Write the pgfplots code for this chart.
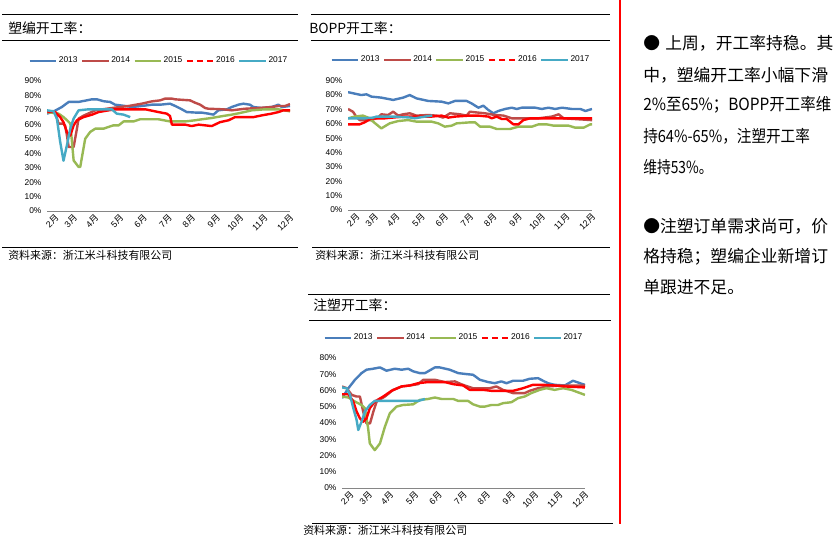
\documentclass[border=0pt]{standalone}
\usepackage{fontspec}
\setmainfont{Liberation Sans}
\newfontfamily\cjk{Noto Sans CJK SC}
\usepackage{pgfplots}
\pgfplotsset{compat=1.18}
\definecolor{c2013}{HTML}{4A7EBB}
\definecolor{c2014}{HTML}{BE4B48}
\definecolor{c2015}{HTML}{98B954}
\definecolor{c2016}{HTML}{FF0000}
\definecolor{c2017}{HTML}{46AAC5}
\definecolor{axgray}{HTML}{868686}
\tikzset{
 s13/.style={c2013, line width=1.8pt, line join=round},
 s14/.style={c2014, line width=1.8pt, line join=round},
 s15/.style={c2015, line width=1.8pt, line join=round},
 s16/.style={c2016, line width=1.8pt, line join=round},
 s16l/.style={c2016, line width=1.8pt, dash pattern=on 4.5pt off 3pt},
 s17/.style={c2017, line width=1.8pt, line join=round},
}
\newcommand\yue{{\cjk 月}}
\newcommand\leg{%
 \addlegendimage{s13}\addlegendentry{2013}%
 \addlegendimage{s14}\addlegendentry{2014}%
 \addlegendimage{s15}\addlegendentry{2015}%
 \addlegendimage{s16l}\addlegendentry{2016}%
 \addlegendimage{s17}\addlegendentry{2017}}
\pgfplotsset{
 panel/.style={
  scale only axis, width=182.25pt, height=97.5pt,
  xmin=1.86, xmax=12.17, ymin=0,
  axis x line*=bottom, axis y line*=left,
  x axis line style={axgray, line width=0.6pt, -},
  y axis line style={draw=none},
  major tick length=0pt, no markers,
  xtick={2.00,2.78,3.69,4.75,5.74,6.80,7.79,8.85,9.84,10.87,11.96},
  xticklabels={{2\yue},{3\yue},{4\yue},{5\yue},{6\yue},{7\yue},{8\yue},{9\yue},{10\yue},{11\yue},{12\yue}},
  xticklabel style={rotate=45, anchor=east, font=\fontsize{6.6}{7}\selectfont, inner sep=0.5pt, yshift=-6.5pt, xshift=1.5pt},
  yticklabel style={font=\fontsize{6.3}{7}\selectfont, inner sep=1pt, xshift=-3pt},
  legend columns=-1,
  legend style={draw=none, fill=none, anchor=center, font=\fontsize{6.3}{7}\selectfont,
    inner sep=0pt, nodes={inner sep=1pt},
    /tikz/every even column/.append style={column sep=1.5pt}},
  legend image code/.code={\draw[##1] (0pt,0pt) -- (20pt,0pt);},
 }
}
\begin{document}
\begin{tikzpicture}
\path[use as bounding box] (0,0) rectangle (630pt,-410.25pt);
\fill[white] (0,0) rectangle (630pt,-410.25pt);

% ---------- Panel 1: 塑编开工率 ----------
\begin{axis}[panel, at={(35.25pt,-158.25pt)}, anchor=south west,
  ymax=90, ytick={0,10,...,90},
  yticklabels={0\%,10\%,20\%,30\%,40\%,50\%,60\%,70\%,80\%,90\%},
  legend style={at={(0.459,1.154)}}]
\leg
\addplot[s13, forget plot] coordinates {(1.86,67.4) (2.21,69.5) (2.49,72) (2.78,75.5) (3.20,75.5) (3.76,77.3) (3.98,77.3) (4.26,76) (4.54,75.5) (4.75,73.6) (5.18,72.7) (5.46,72) (5.88,72.7) (6.31,73.6) (6.66,73.6) (7.08,74.3) (7.30,72.7) (7.58,70.4) (7.79,68.5) (8.21,68.1) (8.43,68.1) (8.71,67.4) (8.92,66.7) (9.13,69.7) (9.49,70.4) (9.70,72) (9.98,73.6) (10.19,74.3) (10.47,73.6) (10.62,72) (10.97,71.3) (11.39,72) (11.68,73.6) (11.82,72) (12.17,72.7)};
\addplot[s14, forget plot] coordinates {(1.86,68.5) (2.21,68) (2.35,60.5) (2.56,60.5) (2.63,59) (2.71,52) (2.78,44.3) (2.99,44.3) (3.13,57) (3.20,64) (3.41,66) (3.91,69.7) (4.61,71.3) (5.32,72.7) (5.88,74.3) (6.31,75.9) (6.66,76.6) (6.87,77.8) (7.16,77.8) (7.30,77.3) (7.93,76.6) (8.14,75) (8.36,73.6) (8.57,71.3) (8.71,70.8) (9.34,70.4) (9.70,69.7) (10.26,70.8) (10.83,71.3) (11.39,72) (11.68,72.7) (11.96,72.7) (12.17,74)};
\addplot[s15, forget plot] coordinates {(1.86,68.5) (2.35,67.4) (2.56,65) (2.71,62.8) (2.85,60.5) (2.99,35) (3.20,30.5) (3.27,30.5) (3.48,50) (3.69,54.7) (3.91,57) (4.26,57) (4.47,58.2) (4.68,59.3) (4.90,59.3) (5.11,62) (5.53,62) (5.81,63.5) (6.59,63.5) (7.08,62) (7.72,62) (8.14,62.8) (8.43,63.5) (8.85,64.4) (9.34,65.8) (9.70,66.7) (10.12,68.1) (10.55,69.7) (11.11,70.4) (11.68,70.4) (12.17,69)};
\addplot[s16, forget plot] coordinates {(1.86,68.9) (2.21,68.5) (2.42,65) (2.56,61.5) (2.71,54.5) (2.85,52.3) (2.99,59.3) (3.13,62.8) (3.41,65) (3.77,66.7) (4.05,68.5) (4.47,69.7) (4.75,70.4) (5.32,70.4) (6.03,70.4) (6.59,68.5) (6.94,67.4) (7.08,65.8) (7.16,59.8) (7.72,59.8) (8.00,58.8) (8.29,59.8) (8.85,58.8) (9.20,61.5) (9.56,62.8) (9.84,65) (10.26,65) (10.62,65) (10.97,66.2) (11.39,67.4) (11.68,68.5) (11.89,69.7) (12.17,69.7)};
\addplot[s17, forget plot] coordinates {(1.86,69.7) (2.14,69) (2.28,63.9) (2.42,47.8) (2.56,34.8) (2.71,45.9) (2.85,57) (2.99,64) (3.20,69.7) (3.62,70.4) (4.61,70.4) (4.82,67.4) (5.11,66.7) (5.39,65)};
\end{axis}

% ---------- Panel 2: BOPP开工率 ----------
\begin{axis}[panel, at={(261pt,-157.5pt)}, anchor=south west, width=183pt, height=97pt,
  ymax=90, ytick={0,10,...,90},
  yticklabels={0\%,10\%,20\%,30\%,40\%,50\%,60\%,70\%,80\%,90\%},
  legend style={at={(0.461,1.16)}}]
\leg
\addplot[s13, forget plot] coordinates {(1.86,82) (2.42,80) (2.64,80.5) (2.85,78.9) (3.27,78.2) (3.77,76.6) (4.19,78.2) (4.47,80) (4.75,77.7) (5.25,75.9) (5.81,75.4) (6.10,74.2) (6.38,75.9) (6.87,75.9) (7.08,74.2) (7.37,71.2) (7.58,72.6) (7.79,69.6) (8.00,67.3) (8.21,68.9) (8.50,70.3) (8.78,71.2) (8.99,70.3) (9.20,71.2) (9.77,71.2) (10.05,70.3) (10.33,71.2) (10.62,70.3) (10.90,71.2) (11.32,70.3) (11.68,70.3) (11.89,68.9) (12.17,70.3)};
\addplot[s14, forget plot] coordinates {(1.86,70.3) (2.07,68.4) (2.21,65) (2.35,62.6) (2.85,62.6) (3.13,64.3) (3.27,66.6) (3.55,66.1) (3.77,68.4) (3.98,65.7) (4.19,66.6) (4.47,67.3) (4.75,65.7) (5.25,66.1) (5.60,65.7) (5.88,64.3) (6.17,67.3) (6.59,66.6) (6.87,65.7) (7.01,68.4) (7.23,68) (7.65,67.3) (8.07,66.1) (8.43,65.7) (8.78,63.8) (9.34,63.8) (9.91,63.8) (10.47,65) (10.76,66.6) (10.97,63.8) (11.46,63.3) (12.10,62.6) (12.17,62.6)};
\addplot[s15, forget plot] coordinates {(1.86,63.8) (2.14,65) (2.49,65.7) (2.71,64.3) (2.92,61.5) (3.27,56.8) (3.62,60.3) (3.98,61.9) (4.40,62.6) (4.75,61.5) (5.39,61.5) (5.67,60.3) (5.95,58) (6.24,58.7) (6.45,60.3) (7.01,61) (7.23,61) (7.44,58) (7.86,58) (8.14,56.4) (8.71,56.4) (9.06,58) (9.63,58) (9.91,59.6) (10.26,59.6) (10.55,58.7) (11.18,58.7) (11.46,57.3) (11.82,57.3) (12.10,59.6) (12.17,59.6)};
\addplot[s16, forget plot] coordinates {(1.86,59.6) (2.35,59.6) (2.56,61) (2.85,63.8) (3.41,63.8) (4.19,65) (4.97,65) (5.39,65) (5.81,65.7) (6.10,64.3) (6.38,65) (7.01,65.7) (7.37,65.7) (7.79,65) (7.93,63.8) (8.14,65) (8.36,63.3) (8.57,63.3) (8.85,59.6) (9.06,59.6) (9.27,62.6) (9.56,63.8) (12.17,63.8)};
\addplot[s17, forget plot] coordinates {(1.86,63.8) (2.56,63.8) (2.92,64.3) (3.06,65) (3.84,65) (4.54,64.3) (4.68,63.8) (5.11,65) (5.42,65.7)};
\end{axis}

% ---------- Panel 3: 注塑开工率 ----------
\begin{axis}[panel, at={(256.5pt,-366pt)}, anchor=south west,
  ymax=80, ytick={0,10,...,80},
  yticklabels={0\%,10\%,20\%,30\%,40\%,50\%,60\%,70\%,80\%},
  legend style={at={(0.459,1.156)}}]
\leg
\addplot[s13, forget plot] coordinates {(1.86,55.3) (2.13,61.4) (2.41,66.6) (2.69,70.7) (2.90,72.8) (3.18,73.4) (3.47,74.2) (3.75,72.2) (4.10,73.4) (4.39,72.8) (4.67,73.4) (4.88,71.8) (5.16,70.7) (5.38,70.7) (5.80,74.2) (6.01,74.2) (6.43,72.8) (6.79,70.7) (7.14,70.1) (7.42,69.7) (7.71,66.6) (8.06,65.2) (8.34,64.5) (8.62,65.6) (8.84,64.5) (9.12,66) (9.54,66) (9.82,67.2) (10.18,67.6) (10.39,66) (10.60,64.5) (10.88,63.5) (11.31,63.1) (11.66,66) (12.08,63.9) (12.17,63.5)};
\addplot[s14, forget plot] coordinates {(1.86,62.5) (2.06,61.4) (2.27,57.3) (2.48,56.3) (2.62,56.3) (2.76,47) (2.90,39.8) (3.05,39.8) (3.19,47) (3.33,53.2) (3.68,56.3) (4.03,60.4) (4.39,62.5) (4.74,63.1) (5.09,63.9) (5.31,66.6) (5.80,66.6) (6.22,65.2) (6.65,65.6) (6.90,64) (7.07,63.1) (7.42,61.4) (8.13,61.4) (8.41,62.5) (8.69,60.4) (9.12,58.4) (9.61,58.4) (9.82,59.8) (10.18,61.4) (10.60,62.5) (11.17,63.1) (12.17,63.1)};
\addplot[s15, forget plot] coordinates {(1.86,56.3) (2.13,55.7) (2.41,53.2) (2.69,51.1) (2.83,49.1) (2.97,36.7) (3.04,27.4) (3.25,23.3) (3.47,27.4) (3.68,37.7) (3.89,46) (4.17,50.1) (4.45,51.1) (4.88,51.5) (5.16,54.2) (5.52,54.8) (5.80,55.7) (6.08,54.8) (6.58,54.8) (6.79,53.6) (7.21,53.6) (7.42,51.5) (7.71,50.1) (7.92,50.1) (8.20,51.1) (8.48,51.1) (8.69,52.2) (9.05,52.8) (9.33,55.3) (9.61,56.3) (9.89,58.4) (10.25,60.4) (10.53,61.4) (10.88,60.4) (11.24,61.4) (11.59,60.4) (12.17,57.3)};
\addplot[s16, forget plot] coordinates {(1.86,57.7) (2.13,57.7) (2.34,53.2) (2.48,47) (2.62,42.9) (2.76,40.8) (2.90,42.9) (3.04,49.1) (3.25,53.2) (3.61,56.3) (3.96,59.8) (4.39,62.5) (4.74,63.1) (5.09,64.5) (5.52,65.2) (6.22,65.2) (6.58,63.9) (7.00,63.1) (7.28,60.4) (7.85,60.4) (8.20,59.8) (8.77,59.8) (9.12,59.8) (9.54,61.4) (9.96,63.5) (10.39,63.5) (10.88,63.1) (11.31,62.5) (12.17,61.9)};
\addplot[s17, forget plot] coordinates {(1.86,61.9) (2.06,61.4) (2.20,57.3) (2.34,49.1) (2.48,41.9) (2.55,35.7) (2.69,40.8) (2.83,47) (3.04,51.1) (3.25,53.6) (4.50,53.6) (5.10,53.6) (5.38,54.8)};
\end{axis}

% ---------- frames and text (pixel coordinates, y down) ----------
\begin{scope}[x=0.75pt, y=-0.75pt]
\draw[black, line width=0.75pt] (2,14) -- (298,14) (2,40.5) -- (298,40.5) (2,247) -- (298,247);
\draw[black, line width=0.75pt] (311,14) -- (610,14) (311,40.5) -- (610,40.5) (312,247) -- (610,247);
\draw[black, line width=0.75pt] (308,294) -- (610,294) (309,320) -- (611,320) (312,523) -- (613,523);
\draw[c2016, line width=1.5pt] (620,0) -- (620,524);
\node[anchor=west, inner sep=0pt, font=\cjk\fontsize{10.4}{12}\selectfont] at (8,28) {塑编开工率：};
\node[anchor=west, inner sep=0pt, font=\cjk\fontsize{10.4}{12}\selectfont] at (309,28) {BOPP开工率：};
\node[anchor=west, inner sep=0pt, font=\cjk\fontsize{10.4}{12}\selectfont] at (313,305) {注塑开工率：};
\node[anchor=west, inner sep=0pt, font=\cjk\fontsize{8.2}{10}\selectfont] at (8,255.7) {资料来源：浙江米斗科技有限公司};
\node[anchor=west, inner sep=0pt, font=\cjk\fontsize{8.2}{10}\selectfont] at (315,255.7) {资料来源：浙江米斗科技有限公司};
\node[anchor=west, inner sep=0pt, font=\cjk\fontsize{8.2}{10}\selectfont] at (303,530.7) {资料来源：浙江米斗科技有限公司};
\begin{scope}[every node/.style={anchor=west, inner sep=0pt, font=\cjk\fontsize{12.6}{15}\selectfont}]
\node at (643,43.3) {●\hspace{4pt}上周，开工率持稳。其};
\node at (643,75) {中，塑编开工率小幅下滑};
\node at (643,105) {\resizebox{141pt}{\height}{2\%至65\%；BOPP开工率维}};
\node at (643,136.7) {\resizebox{125pt}{\height}{持64\%-65\%，注塑开工率}};
\node at (643,166.7) {\resizebox{52pt}{\height}{维持53\%。}};
\node at (643,226.7) {●注塑订单需求尚可，价};
\node at (643,256.7) {格持稳；塑编企业新增订};
\node at (643,286.7) {单跟进不足。};
\end{scope}
\end{scope}
\end{tikzpicture}
\end{document}
